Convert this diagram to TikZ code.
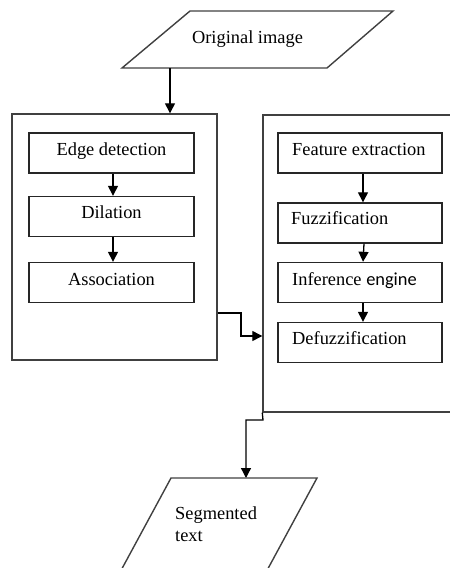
\documentclass[tikz,border=0pt]{standalone}
\usepackage{fontspec}
\setmainfont{Liberation Serif}
\newfontfamily\enginefont{Carlito}
\usetikzlibrary{arrows.meta}
\begin{document}
\begin{tikzpicture}[x=1pt,y=-1pt,
  frame/.style={draw=black!75, line width=1.4pt},
  stage/.style={draw=black!85, line width=1.4pt, minimum width=165pt, minimum height=40pt, inner sep=0pt},
  txt/.style={inner sep=0pt, font=\fontsize{18.4}{22}\selectfont},
  arr/.style={draw=black, line width=1.3pt, -{Triangle[length=10pt,width=10pt]}},
]
\useasboundingbox (0,0) rectangle (450,568);
\clip (0,0) rectangle (450,568);

% top parallelogram
\draw[frame] (190,11) -- (393,11) -- (327,68) -- (122,68) -- cycle;
\node[txt, anchor=base] (orig) at (247.5,43) {Original image};
\coordinate (origout) at (170,68);

% containers
\node[frame, minimum width=205pt, minimum height=246pt, inner sep=0pt] (lbox) at (114.5,237) {};
\node[frame, minimum width=207pt, minimum height=297pt, inner sep=0pt] (rbox) at (366.5,263.5) {};

% left stages
\node[stage] (edge) at (111.5,153) {};
\node[stage] (dil) at (111.5,216.5) {};
\node[stage] (assoc) at (111.5,282.5) {};
\node[txt, anchor=base] (edget) at (111.5,155) {Edge detection};
\node[txt, anchor=base] (dilt) at (111.5,218) {Dilation};
\node[txt, anchor=base] (assoct) at (111.5,285) {Association};

% right stages
\node[stage, minimum width=164pt] (feat) at (360,153) {};
\node[stage, minimum width=164pt] (fuzz) at (360,223) {};
\node[stage, minimum width=164pt] (inf) at (360,282.5) {};
\node[stage, minimum width=164pt] (defuzz) at (360,342.5) {};
\node[txt, anchor=base west] (featt) at (292,155) {Feature extraction};
\node[txt, anchor=base west] (fuzzt) at (291,224) {Fuzzification};
\node[txt, anchor=base west] (inft) at (292,285) {Inference {\enginefont engine}};
\node[txt, anchor=base west] (defuzzt) at (292,344) {Defuzzification};

% arrows inside
\draw[arr] (edge.south -| 113,0) -- (dil.north -| 113,0);
\draw[arr] (dil.south -| 113,0) -- (assoc.north -| 113,0);
\draw[arr] (feat.south -| 363,0) -- (fuzz.north -| 363,0);
\draw[arr] (fuzz.south -| 364,0) -- (inf.north -| 363,0);
\draw[arr] (inf.south -| 363,0) -- (defuzz.north -| 363,0);

% main flow
\draw[arr] (origout) -- (lbox.north -| origout);
\draw[arr] (lbox.east |- 0,313) -- (241,313) -- (241,336) -- (rbox.west |- 0,336);
\coordinate (segin) at (246,478);
\draw[arr] (rbox.south west) -- (263,420) -- (246,420) -- (segin);

% bottom parallelogram
\draw[frame] (171,478) -- (317,478) -- (251,600) -- (105,600) -- cycle;
\node[txt, anchor=base west] (seg) at (175,519) {Segmented};
\node[txt, anchor=base west] (segt) at (175,541) {text};
\end{tikzpicture}
\end{document}
